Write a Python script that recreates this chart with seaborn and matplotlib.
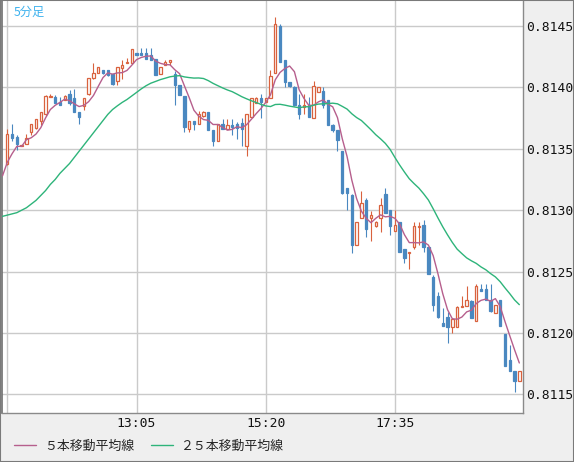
import numpy as np
import pandas as pd
import matplotlib
matplotlib.use("Agg")
import matplotlib.pyplot as plt
from matplotlib.patches import Rectangle
import seaborn as sns

# 5-minute bars from 10:50
opens = [0.81338, 0.81362, 0.81360, 0.81352, 0.81354, 0.81364, 0.81367, 0.81373, 0.81378, 0.81392,
         0.81392, 0.81388, 0.81390, 0.81395, 0.81391, 0.81380, 0.81385, 0.81395, 0.81408, 0.81412,
         0.81414, 0.81414, 0.81411, 0.81405, 0.81416, 0.81420, 0.81420, 0.81428, 0.81428, 0.81428,
         0.81426, 0.81423, 0.81411, 0.81418, 0.81421, 0.81411, 0.81402, 0.81393, 0.81366, 0.81373,
         0.81370, 0.81377, 0.81380, 0.81365, 0.81356, 0.81370, 0.81366, 0.81369, 0.81370, 0.81371,
         0.81352, 0.81376, 0.81387, 0.81391, 0.81388, 0.81391, 0.81412, 0.81450, 0.81422, 0.81404,
         0.81400, 0.81386, 0.81384, 0.81386, 0.81375, 0.81396, 0.81397, 0.81390, 0.81369, 0.81365,
         0.81348, 0.81318, 0.81312, 0.81272, 0.81294, 0.81308, 0.81294, 0.81287, 0.81294, 0.81313,
         0.81300, 0.81283, 0.81290, 0.81268, 0.81265, 0.81270, 0.81286, 0.81288, 0.81270, 0.81246,
         0.81230, 0.81208, 0.81213, 0.81205, 0.81205, 0.81221, 0.81222, 0.81226, 0.81210, 0.81236,
         0.81236, 0.81227, 0.81216, 0.81227, 0.81199, 0.81178, 0.81169, 0.81161]
highs = [0.81366, 0.81370, 0.81361, 0.81353, 0.81362, 0.81370, 0.81374, 0.81380, 0.81394, 0.81395,
         0.81394, 0.81392, 0.81394, 0.81398, 0.81399, 0.81380, 0.81391, 0.81408, 0.81420, 0.81417,
         0.81414, 0.81414, 0.81411, 0.81417, 0.81422, 0.81424, 0.81431, 0.81428, 0.81432, 0.81432,
         0.81432, 0.81423, 0.81417, 0.81422, 0.81422, 0.81413, 0.81402, 0.81393, 0.81373, 0.81373,
         0.81381, 0.81381, 0.81380, 0.81365, 0.81370, 0.81374, 0.81374, 0.81374, 0.81372, 0.81375,
         0.81378, 0.81391, 0.81392, 0.81395, 0.81391, 0.81414, 0.81457, 0.81452, 0.81422, 0.81404,
         0.81401, 0.81395, 0.81395, 0.81392, 0.81405, 0.81400, 0.81400, 0.81390, 0.81370, 0.81365,
         0.81348, 0.81318, 0.81313, 0.81290, 0.81316, 0.81310, 0.81299, 0.81291, 0.81310, 0.81318,
         0.81300, 0.81300, 0.81290, 0.81268, 0.81266, 0.81290, 0.81290, 0.81292, 0.81270, 0.81247,
         0.81233, 0.81220, 0.81217, 0.81212, 0.81222, 0.81230, 0.81238, 0.81227, 0.81240, 0.81240,
         0.81240, 0.81240, 0.81223, 0.81227, 0.81199, 0.81190, 0.81169, 0.81169]
lows = [0.81337, 0.81356, 0.81349, 0.81352, 0.81354, 0.81361, 0.81366, 0.81369, 0.81377, 0.81392,
        0.81387, 0.81386, 0.81390, 0.81386, 0.81380, 0.81370, 0.81382, 0.81394, 0.81407, 0.81412,
        0.81411, 0.81409, 0.81402, 0.81402, 0.81407, 0.81420, 0.81420, 0.81426, 0.81426, 0.81423,
        0.81422, 0.81410, 0.81411, 0.81418, 0.81418, 0.81386, 0.81394, 0.81364, 0.81364, 0.81365,
        0.81370, 0.81376, 0.81365, 0.81352, 0.81356, 0.81366, 0.81366, 0.81361, 0.81358, 0.81352,
        0.81344, 0.81376, 0.81387, 0.81375, 0.81388, 0.81391, 0.81412, 0.81421, 0.81400, 0.81400,
        0.81385, 0.81374, 0.81378, 0.81376, 0.81375, 0.81396, 0.81383, 0.81369, 0.81364, 0.81348,
        0.81313, 0.81300, 0.81265, 0.81272, 0.81294, 0.81278, 0.81275, 0.81286, 0.81282, 0.81298,
        0.81280, 0.81283, 0.81266, 0.81257, 0.81252, 0.81268, 0.81272, 0.81266, 0.81248, 0.81218,
        0.81212, 0.81206, 0.81192, 0.81200, 0.81205, 0.81221, 0.81222, 0.81212, 0.81210, 0.81234,
        0.81227, 0.81217, 0.81216, 0.81206, 0.81173, 0.81169, 0.81152, 0.81161]
closes = [0.81362, 0.81359, 0.81354, 0.81353, 0.81359, 0.81370, 0.81374, 0.81380, 0.81393, 0.81393,
          0.81387, 0.81386, 0.81393, 0.81387, 0.81380, 0.81376, 0.81391, 0.81408, 0.81412, 0.81417,
          0.81412, 0.81410, 0.81403, 0.81417, 0.81418, 0.81421, 0.81431, 0.81426, 0.81426, 0.81423,
          0.81422, 0.81410, 0.81417, 0.81421, 0.81422, 0.81402, 0.81394, 0.81368, 0.81373, 0.81370,
          0.81378, 0.81380, 0.81365, 0.81356, 0.81370, 0.81366, 0.81369, 0.81368, 0.81367, 0.81366,
          0.81378, 0.81391, 0.81391, 0.81388, 0.81391, 0.81409, 0.81452, 0.81421, 0.81404, 0.81401,
          0.81386, 0.81378, 0.81386, 0.81376, 0.81401, 0.81400, 0.81386, 0.81369, 0.81365, 0.81357,
          0.81314, 0.81314, 0.81272, 0.81290, 0.81306, 0.81285, 0.81296, 0.81290, 0.81304, 0.81298,
          0.81287, 0.81288, 0.81266, 0.81261, 0.81266, 0.81287, 0.81287, 0.81270, 0.81248, 0.81223,
          0.81213, 0.81206, 0.81205, 0.81211, 0.81221, 0.81222, 0.81227, 0.81212, 0.81238, 0.81234,
          0.81227, 0.81218, 0.81223, 0.81206, 0.81173, 0.81169, 0.81161, 0.81169]

# averages that need bars from before the window (bars -1..3 and -1..23)
ma5_head = [0.81328, 0.81339, 0.81346, 0.81352, 0.81352]
ma25_head = [0.81295, 0.81296, 0.81297, 0.81298, 0.81300, 0.81302, 0.81305, 0.81308, 0.81312, 0.81316,
             0.81321, 0.81325, 0.81330, 0.81334, 0.81338, 0.81343, 0.81348, 0.81353, 0.81358, 0.81363,
             0.81368, 0.81373, 0.81378, 0.81382, 0.81385]

price_ticks = [0.8115, 0.8120, 0.8125, 0.8130, 0.8135, 0.8140, 0.8145]
time_ticks = [0, 27, 54, 81]
time_labels = ["", "13:05", "15:20", "17:35"]
ma_labels = ["５本移動平均線", "２５本移動平均線"]

up_color = "#d9623e"
down_color = "#4a88c0"
ma5_color = "#b65f8d"
ma25_color = "#2eb47a"

df = pd.DataFrame({"open": opens, "high": highs, "low": lows, "close": closes})
df["bar"] = np.arange(len(df))

ma5 = ma5_head + list(df["close"].rolling(5).mean().iloc[4:])
ma25 = ma25_head + list(df["close"].rolling(25).mean().iloc[24:])
ma = pd.DataFrame({"bar": np.arange(-1, len(df)), "ma5": ma5, "ma25": ma25})

sns.set_style("white")
plt.rcParams["font.family"] = ["Noto Sans CJK JP", "DejaVu Sans"]

W, H = 574, 462
fig = plt.figure(figsize=(W / 100, H / 100), dpi=100, facecolor="#efefef")
ax = fig.add_axes([2 / W, 49 / H, 521 / W, 412 / H])
ax.set_facecolor("white")

up = df[df["close"] >= df["open"]]
down = df[df["close"] < df["open"]]
ax.vlines(up["bar"], up["low"], up["high"], color=up_color, lw=0.8, zorder=2)
ax.vlines(down["bar"], down["low"], down["high"], color=down_color, lw=0.8, zorder=2)
ax.bar(up["bar"], up["close"] - up["open"], bottom=up["open"], width=0.5,
       facecolor="white", edgecolor=up_color, lw=0.9, zorder=3)
ax.bar(down["bar"], down["open"] - down["close"], bottom=down["close"], width=0.5,
       facecolor=down_color, edgecolor=down_color, lw=0.9, zorder=3)

sns.lineplot(data=ma, x="bar", y="ma5", ax=ax, color=ma5_color, lw=1, label=ma_labels[0], zorder=4)
sns.lineplot(data=ma, x="bar", y="ma25", ax=ax, color=ma25_color, lw=1, label=ma_labels[1], zorder=4)
if ax.get_legend():
    ax.get_legend().remove()
ax.set(xlabel=None, ylabel=None)

ax.set_xlim(-1.108, 107.77)
ax.set_ylim(0.8113485, 0.8147036)
ax.set_yticks(price_ticks)
ax.set_yticklabels([f"{p:.4f}" for p in price_ticks])
ax.set_xticks(time_ticks)
ax.set_xticklabels(time_labels)
ax.yaxis.tick_right()
ax.grid(True, color="#cacaca", lw=1)
ax.set_axisbelow(True)
ax.tick_params(axis="y", length=0, pad=2, labelsize=9.4, colors="#111111")
ax.tick_params(axis="x", length=0, pad=3, labelsize=9.4, colors="#111111")
for lbl in ax.get_yticklabels() + ax.get_xticklabels():
    lbl.set_fontfamily("DejaVu Sans Mono")

ax.spines["top"].set_visible(False)
ax.spines["left"].set_color("#6e6e6e")
ax.spines["left"].set_linewidth(1.2)
for s in ["right", "bottom"]:
    ax.spines[s].set_color("#8a8a8a")
    ax.spines[s].set_linewidth(1)

fig.text(14 / W, 1 - 12 / H, "5分足", color="#3eb2ee", fontsize=8.8, va="center", ha="left")

handles, labels = ax.get_legend_handles_labels()
fig.legend(handles, labels, loc="center left", bbox_to_anchor=(14 / W, 16 / H), ncol=2,
           frameon=False, handlelength=1.7, handletextpad=0.6, columnspacing=1.3,
           fontsize=9.3, borderpad=0, borderaxespad=0)

fig.patches.append(Rectangle((0, 0), 1, 1, transform=fig.transFigure, fill=False,
                             edgecolor="#7a7a7a", lw=1.5))

fig.savefig("out.png", dpi=100, facecolor=fig.get_facecolor())
